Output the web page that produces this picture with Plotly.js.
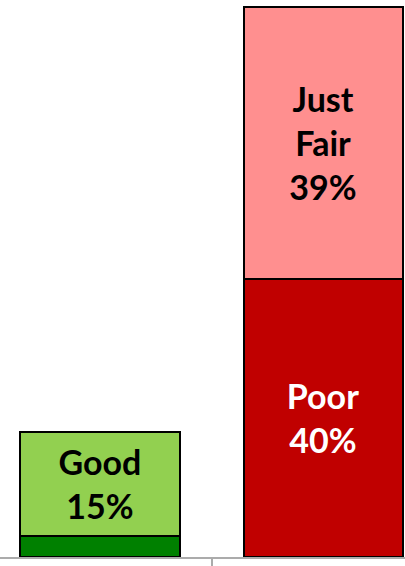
<!DOCTYPE html>
<html>
<head>
<meta charset="utf-8">
<script src="https://cdn.plot.ly/plotly-3.0.1.min.js"></script>
<style>html,body{margin:0;padding:0;background:#fff;}#chart{width:405px;height:566px;}</style>
</head>
<body>
<div id="chart"></div>
<script>
var categories = ["Group A", "Group B"];
var seriesNames = ["Excellent", "Good", "Poor", "Just Fair"];
var excellent = [3, null];
var good = [15, null];
var poor = [null, 40];
var justFair = [null, 39];
var seriesColors = ["#008000", "#92D050", "#C00000", "#FF8F8F"];
var textColors = ["#000000", "#000000", "#FFFFFF", "#000000"];
var showLabel = [false, true, true, true];

var values = [excellent, good, poor, justFair];
var traces = values.map(function (vals, i) {
  var label = seriesNames[i].replace(/ /g, "<br>");
  return {
    type: "bar",
    name: seriesNames[i],
    x: categories,
    y: vals,
    width: 0.713,
    marker: { color: seriesColors[i], line: { color: "#000000", width: 2 } },
    text: vals.map(function (v) { return (v == null || !showLabel[i]) ? "" : label + "<br>" + v + "%"; }),
    textposition: "inside",
    insidetextanchor: "middle",
    textangle: 0,
    constraintext: "none",
    textfont: { family: "Lato, 'Open Sans', sans-serif", size: 34, weight: "bold", color: textColors[i] },
    hoverinfo: "skip",
    cliponaxis: false
  };
});

var layout = {
  width: 405,
  height: 566,
  margin: { l: 0, r: 0, t: 0, b: 9, pad: 0 },
  barmode: "stack",
  showlegend: false,
  paper_bgcolor: "#FFFFFF",
  plot_bgcolor: "#FFFFFF",
  xaxis: {
    type: "category",
    range: [-0.4484, 1.3677],
    showline: true,
    linecolor: "#ABABAB",
    linewidth: 2,
    ticks: "outside",
    tickson: "boundaries",
    ticklen: 8,
    tickwidth: 2,
    tickcolor: "#ABABAB",
    showticklabels: false,
    showgrid: false,
    zeroline: false,
    fixedrange: true
  },
  yaxis: {
    range: [0, 80],
    showline: false,
    showgrid: false,
    zeroline: false,
    showticklabels: false,
    ticks: "",
    fixedrange: true
  }
};

Plotly.newPlot("chart", traces, layout, { displayModeBar: false, staticPlot: true });
</script>
</body>
</html>
